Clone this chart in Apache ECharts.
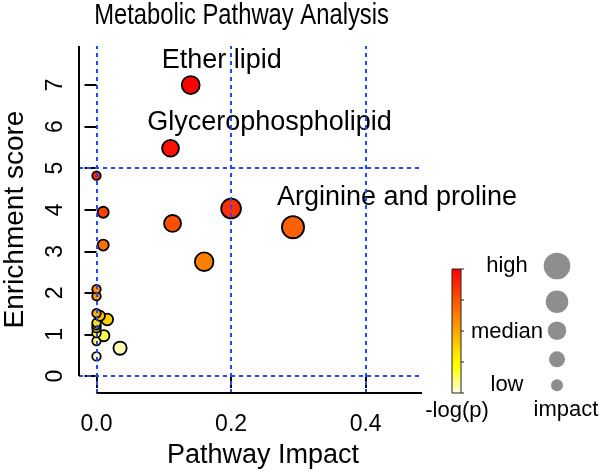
<!DOCTYPE html>
<html>
<head>
<meta charset="utf-8">
<script src="https://cdn.jsdelivr.net/npm/echarts@6/dist/echarts.min.js"></script>
<style>html,body{margin:0;padding:0;background:#fff}#c{width:600px;height:473px}</style>
</head>
<body>
<div id="c"></div>
<script>
// ---- data ----
const pathwayImpact   = [0.140, 0.110, 0.200, 0.113, 0.292, 0.160, 0.000, 0.010, 0.010, 0.000, 0.000, 0.000, 0.005, 0.016, 0.000, 0.000, 0.000, 0.000, 0.011, 0.000, 0.035, 0.000];
const enrichmentScore = [7.00, 5.48, 4.03, 3.67, 3.58, 2.75, 4.82, 3.94, 3.15, 2.09, 1.92, 1.51, 1.45, 1.36, 1.28, 1.22, 1.15, 1.03, 0.97, 0.84, 0.67, 0.47];
const pathwayLabels   = ["Ether lipid", "Glycerophospholipid", "", "", "Arginine and proline", "", "", "", "", "", "", "", "", "", "", "", "", "", "", "", "", ""];
const xTicks = [0, 0.2, 0.4];
const xTickLabels = ["0.0", "0.2", "0.4"];
const yTicks = [0, 1, 2, 3, 4, 5, 6, 7];
const vRefLines = [0, 0.2, 0.4];
const hRefLines = [0, 5];
const legendLevels = ["high", "median", "low"];
const legendImpactSteps = [5, 4, 3, 2, 1];
const chartTitle = "Metabolic Pathway Analysis";

// ---- layout / style (not data) ----
const XMIN = -0.026, XMAX = 0.4837, YMIN = -0.409, YMAX = 7.94;
const FONT = "Liberation Sans, Arial, Helvetica, sans-serif";
const labelOffsets = {"Ether lipid": [31, -1], "Glycerophospholipid": [99, -3], "Arginine and proline": [104, -4]};

function hsvToHex(h, s, v) {
  const i = Math.floor(h * 6), f = h * 6 - i;
  const p = v * (1 - s), q = v * (1 - f * s), t = v * (1 - (1 - f) * s);
  let r, g, b;
  switch (i % 6) { case 0: r=v; g=t; b=p; break; case 1: r=q; g=v; b=p; break; case 2: r=p; g=v; b=t; break;
    case 3: r=p; g=q; b=v; break; case 4: r=t; g=p; b=v; break; default: r=v; g=p; b=q; }
  const hx = x => Math.round(x * 255).toString(16).padStart(2, '0');
  return '#' + hx(r) + hx(g) + hx(b);
}
// R's heat.colors(n), element k (1-based)
function heatColor(k, n) {
  const j = Math.floor(n / 4), i = n - j;
  if (k <= i) return hsvToHex((k - 1) / (i - 1) / 6, 1, 1);
  const m = k - i;
  const s0 = 1 - 1 / (2 * j), s1 = 1 / (2 * j);
  const s = j > 1 ? s0 + (m - 1) * (s1 - s0) / (j - 1) : s0;
  return hsvToHex(1 / 6, s, 1);
}
const n = enrichmentScore.length;
const order = enrichmentScore.map((v, i) => i).sort((a, b) => enrichmentScore[b] - enrichmentScore[a]);
const rankOf = new Array(n);
order.forEach((idx, r) => rankOf[idx] = r + 1);

function sizeFor(impact) { return 2 * (5.0 + 12.6 * Math.sqrt(Math.max(impact, 0))) - 1.5; }

const points = pathwayImpact.map((x, i) => {
  const name = pathwayLabels[i];
  const item = { value: [x, enrichmentScore[i], rankOf[i]], name: name };
  if (name) {
    item.label = { show: true, formatter: name, position: 'top', distance: 0, offset: labelOffsets[name] || [0, 0],
      fontSize: 27, fontFamily: FONT, color: '#000' };
  }
  return item;
});
points.sort((a, b) => b.value[2] - a.value[2]);

const dashStyle = { type: [4, 4], width: 2, color: '#2448f5' };
const refLines = vRefLines.map(v => ({ xAxis: v })).concat(hRefLines.map(v => ({ yAxis: v })));
const axisLines = [
  [{ coord: [0, YMIN] }, { coord: [XMAX, YMIN] }],
  [{ coord: [XMIN, 0] }, { coord: [XMIN, YMAX] }]
];

// legend geometry + condensed title
const barX = 452, barY = 269, barW = 9, barH = 124;
const stops = [];
for (let k = 1; k <= n; k++) stops.push({ offset: (k - 1) / (n - 1), color: heatColor(k, n) });
const graphics = [
  { type: 'text', x: 241.5, y: 16, scaleX: 0.82, scaleY: 1,
    style: { text: chartTitle, fontSize: 29, fontFamily: FONT, fill: '#000', align: 'center', verticalAlign: 'middle' } },
  { type: 'rect', shape: { x: barX, y: barY, width: barW, height: barH },
    style: { fill: new echarts.graphic.LinearGradient(0, 0, 0, 1, stops), stroke: '#222', lineWidth: 1 } }
];
for (let t = 0; t < 5; t++) {
  const yy = barY + t * barH / 4;
  graphics.push({ type: 'line', shape: { x1: barX + barW, y1: yy, x2: barX + barW + 3, y2: yy }, style: { stroke: '#222', lineWidth: 1 } });
}
const levelY = [266, 331.5, 385];
legendLevels.forEach((s, i) => graphics.push({ type: 'text', x: 507, y: levelY[i],
  style: { text: s, fontSize: 22, fontFamily: FONT, fill: '#000', align: 'center', verticalAlign: 'middle' } }));
graphics.push({ type: 'text', x: 457, y: 411, style: { text: '-log(p)', fontSize: 22, fontFamily: FONT, fill: '#000', align: 'center', verticalAlign: 'middle' } });
graphics.push({ type: 'text', x: 566, y: 410, style: { text: 'impact', fontSize: 22, fontFamily: FONT, fill: '#000', align: 'center', verticalAlign: 'middle' } });
const circY = [266, 301.7, 330.7, 359.3, 385.3];
const circR = [13.3, 11.3, 9.3, 8, 6];
legendImpactSteps.forEach((s, i) => graphics.push({ type: 'circle', shape: { cx: 557, cy: circY[i], r: circR[i] }, style: { fill: '#8e8e8e' } }));

const chart = echarts.init(document.getElementById('c'), null, { renderer: 'canvas' });
chart.setOption({
  animation: false,
  backgroundColor: '#fff',
  grid: { left: 79, right: 178, top: 46, bottom: 80, containLabel: false, outerBoundsMode: 'none' },
  xAxis: {
    type: 'value', min: XMIN, max: XMAX,
    name: 'Pathway Impact', nameLocation: 'middle', nameGap: 49,
    nameTextStyle: { fontSize: 27, fontFamily: FONT, color: '#000', padding: [0, 0, 0, 25] },
    axisLine: { show: false },
    axisTick: { show: true, length: 12, customValues: xTicks, lineStyle: { color: '#000', width: 2 } },
    axisLabel: { customValues: xTicks, margin: 20, fontSize: 23, fontFamily: FONT, color: '#000',
      formatter: v => { const i = xTicks.findIndex(t => Math.abs(t - v) < 1e-9); return i >= 0 ? xTickLabels[i] : ''; } },
    splitLine: { show: false }
  },
  yAxis: {
    type: 'value', min: YMIN, max: YMAX,
    name: 'Enrichment score', nameLocation: 'middle', nameGap: 50, nameRotate: 90,
    nameTextStyle: { fontSize: 28, fontFamily: FONT, color: '#000' },
    axisLine: { show: false },
    axisTick: { show: true, length: 12, customValues: yTicks, lineStyle: { color: '#000', width: 2 } },
    axisLabel: { customValues: yTicks, rotate: 90, margin: 12, fontSize: 23, fontFamily: FONT, color: '#000',
      formatter: v => String(Math.round(v)) },
    splitLine: { show: false }
  },
  graphic: graphics,
  series: [
    { type: 'line', data: [], z: 1, clip: false,
      markLine: { silent: true, symbol: ['none', 'none'], label: { show: false }, lineStyle: dashStyle,
        emphasis: { disabled: true }, data: refLines } },
    { type: 'line', data: [], z: 1, clip: false,
      markLine: { silent: true, symbol: ['none', 'none'], label: { show: false },
        lineStyle: { type: 'solid', width: 2, color: '#000' }, emphasis: { disabled: true }, data: axisLines } },
    { type: 'scatter', z: 3, clip: false,
      data: points,
      symbolSize: v => sizeFor(v[0]),
      itemStyle: { color: p => heatColor(p.value[2], n), borderColor: '#000', borderWidth: 1.8, opacity: 1 },
      label: { show: false },
      emphasis: { disabled: true } }
  ]
});
</script>
</body>
</html>
